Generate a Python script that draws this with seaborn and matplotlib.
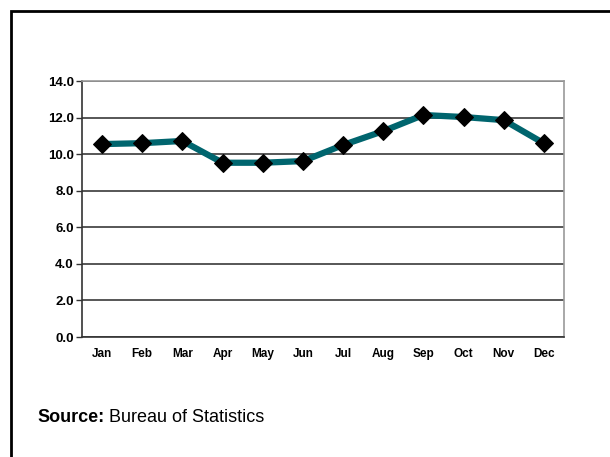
import matplotlib
matplotlib.use("Agg")
import matplotlib.pyplot as plt
from matplotlib.patches import Rectangle
import numpy as np
import pandas as pd
import seaborn as sns

months = ["Jan", "Feb", "Mar", "Apr", "May", "Jun",
          "Jul", "Aug", "Sep", "Oct", "Nov", "Dec"]
values = [10.55, 10.6, 10.72, 9.53, 9.53, 9.62,
          10.5, 11.26, 12.14, 12.03, 11.86, 10.59]
y_ticks = [0.0, 2.0, 4.0, 6.0, 8.0, 10.0, 12.0, 14.0]

sns.set_style("white")
plt.rcParams["font.family"] = ["Liberation Sans Narrow", "Liberation Sans", "DejaVu Sans"]
plt.rcParams["text.color"] = "black"
plt.rcParams["xtick.color"] = "black"
plt.rcParams["ytick.color"] = "black"

df = pd.DataFrame({"month": months, "value": values, "pos": np.arange(len(months))})

fig = plt.figure(figsize=(6.1, 4.57), dpi=100)
ax = fig.add_axes([82 / 610, 1 - 337 / 457, (564 - 82) / 610, (337 - 81) / 457])

sns.lineplot(data=df, x="pos", y="value", ax=ax, color="#00656E", linewidth=4.5,
             marker="D", markersize=9.5, markerfacecolor="black",
             markeredgecolor="black", zorder=3)

ax.set_xlim(-0.5, len(months) - 0.5)
ax.set_ylim(0, 14)
ax.set_yticks(y_ticks)
ax.set_yticklabels([f"{v:.1f}" for v in y_ticks], fontsize=9.5, fontweight="bold")
ax.set_xticks(df["pos"])
ax.set_xticklabels(months, fontsize=8.5, fontweight="bold")
ax.set_xticks(np.arange(-0.5, len(months), 1.0), minor=True)
ax.tick_params(axis="x", which="major", length=0, pad=8)
ax.tick_params(axis="x", which="minor", length=4, width=1, color="#333333", direction="out")
ax.tick_params(axis="y", which="major", length=4, width=1, color="#333333", direction="out", pad=2, left=True)
ax.set_xlabel("")
ax.set_ylabel("")

ax.yaxis.grid(True, color="#3a3a3a", linewidth=1.2)
ax.xaxis.grid(False)
ax.set_axisbelow(True)
for side in ["left", "bottom"]:
    ax.spines[side].set_color("#333333")
    ax.spines[side].set_linewidth(1.2)
for side in ["top", "right"]:
    ax.spines[side].set_color("#9a9a9a")
    ax.spines[side].set_linewidth(1.2)

# outer frame around the exhibit
fig.patches.append(Rectangle((10.5 / 610, -0.1), 1.0, 1 - 11 / 457 + 0.1,
                             transform=fig.transFigure, fill=False,
                             edgecolor="black", linewidth=2))

src = fig.text(37 / 610, 1 - 418 / 457, "Source:", fontsize=13, fontweight="bold",
               family=["Liberation Sans", "DejaVu Sans"], va="center", ha="left",
               color="black")
ax.annotate(" Bureau of Statistics", xy=(1.0, 0.5), xycoords=src,
            fontsize=13, family=["Liberation Sans", "DejaVu Sans"],
            va="center", ha="left", color="black", annotation_clip=False)

fig.savefig("out.png", dpi=100)
